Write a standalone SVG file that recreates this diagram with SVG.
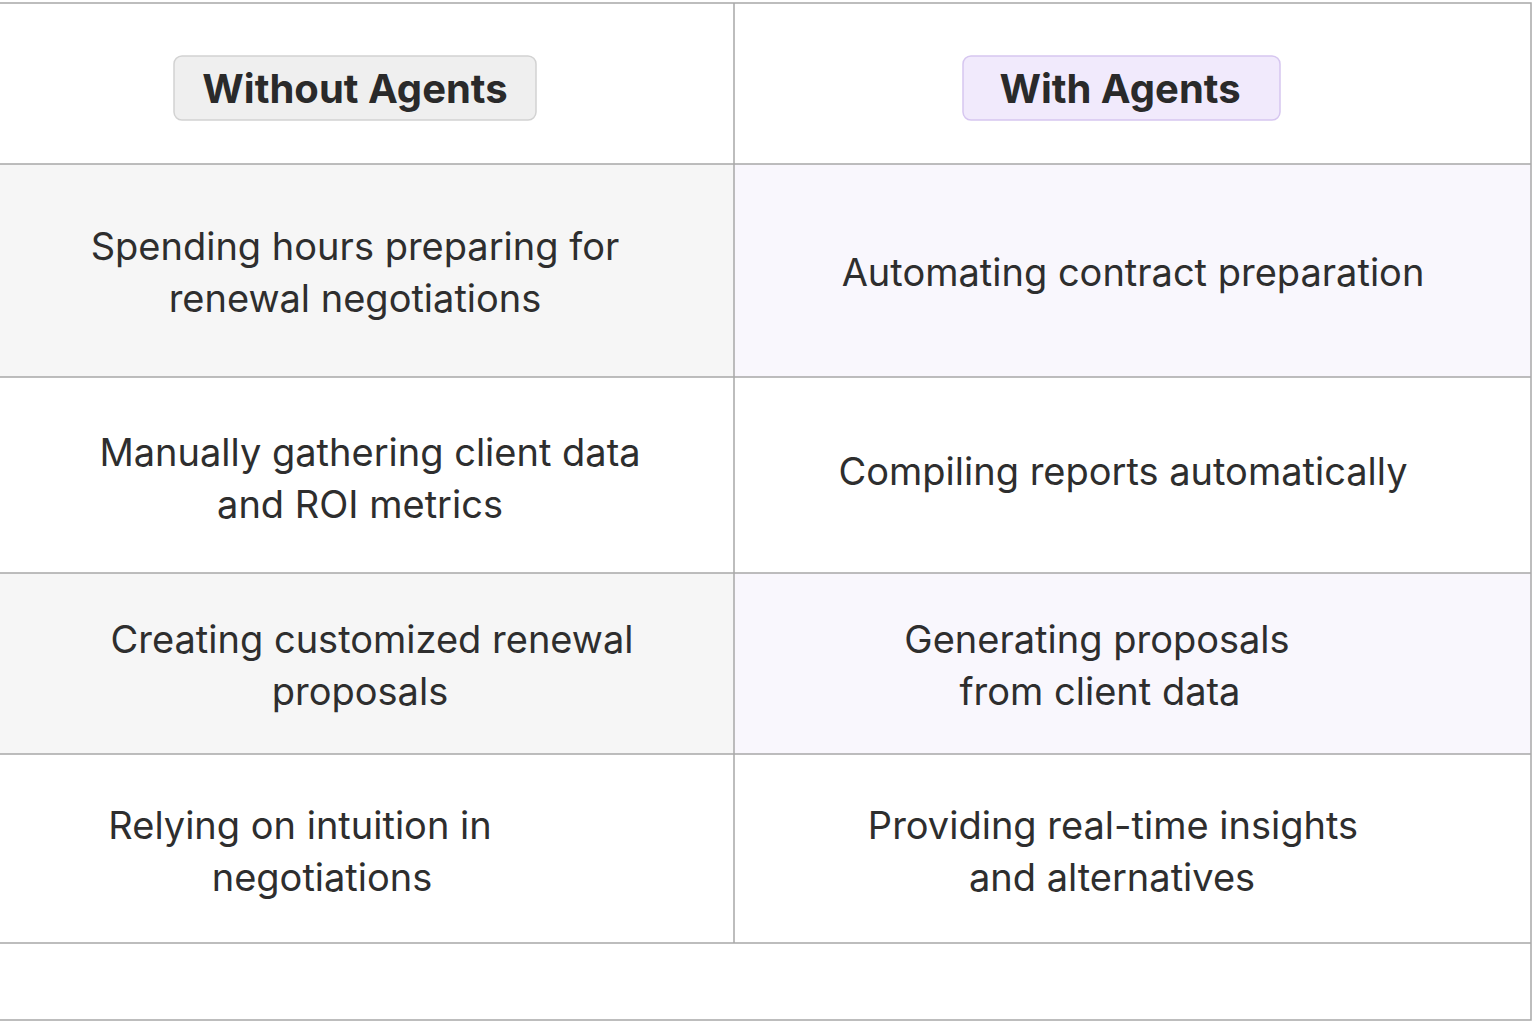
<svg xmlns="http://www.w3.org/2000/svg" width="1536" height="1024" viewBox="0 0 1536 1024">
<style>
.t{font-family:Inter,"Noto Sans",sans-serif;font-size:38px;fill:#2e2e2e;text-anchor:middle}
.h{font-family:Inter,"Noto Sans",sans-serif;font-size:40px;font-weight:700;fill:#2a2a2a;text-anchor:middle}
.ln{stroke:#a8a8a8;stroke-width:1.5;fill:none}
</style>
<rect x="0" y="0" width="1536" height="1024" fill="#ffffff"/>
<g id="backgrounds">
<rect x="0" y="164" width="734" height="213" fill="#f6f6f6"/>
<rect x="734" y="164" width="797" height="213" fill="#f9f7fd"/>
<rect x="0" y="573" width="734" height="181" fill="#f6f6f6"/>
<rect x="734" y="573" width="797" height="181" fill="#f9f7fd"/>
</g>
<g id="grid">
<path class="ln" d="M0 3H1531V1020H0M734 3V943M0 164H1531M0 377H1531M0 573H1531M0 754H1531M0 943H1531"/>
</g>
<g id="header-left">
<rect x="174" y="56" width="362" height="64" rx="8" fill="#efefef" stroke="#d2d2d2" stroke-width="1.5"/>
<text class="h" x="355" y="103">Without Agents</text>
</g>
<g id="header-right">
<rect x="963" y="56" width="317" height="64" rx="8" fill="#f1eafc" stroke="#d6c6f0" stroke-width="1.5"/>
<text class="h" x="1120" y="103">With Agents</text>
</g>
<g id="row1">
<text class="t" x="355" y="260">Spending hours preparing for</text>
<text class="t" x="355" y="312">renewal negotiations</text>
<text class="t" x="1133" y="286">Automating contract preparation</text>
</g>
<g id="row2">
<text class="t" x="370" y="466">Manually gathering client data</text>
<text class="t" x="360" y="518">and ROI metrics</text>
<text class="t" x="1123" y="485">Compiling reports automatically</text>
</g>
<g id="row3">
<text class="t" x="372" y="653">Creating customized renewal</text>
<text class="t" x="360" y="705">proposals</text>
<text class="t" x="1097" y="653">Generating proposals</text>
<text class="t" x="1100" y="705">from client data</text>
</g>
<g id="row4">
<text class="t" x="300" y="839">Relying on intuition in</text>
<text class="t" x="322" y="891">negotiations</text>
<text class="t" x="1113" y="839">Providing real-time insights</text>
<text class="t" x="1112" y="891">and alternatives</text>
</g>
</svg>
